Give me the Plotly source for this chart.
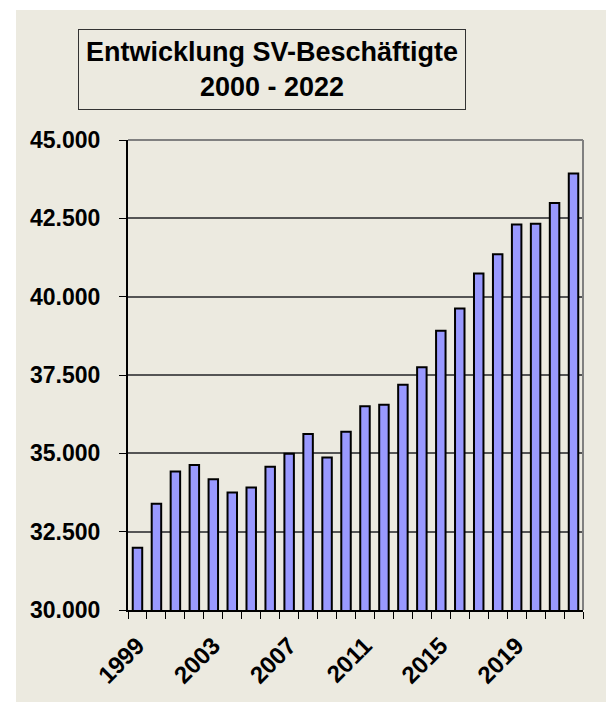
import plotly.graph_objects as go

years = list(range(1999, 2023))
employees = [31990, 33390, 34420, 34630, 34170, 33750, 33910, 34570, 34990, 35620,
             34870, 35690, 36500, 36550, 37190, 37750, 38910, 39620, 40740, 41350,
             42300, 42330, 42990, 43930]
label_years = [1999, 2003, 2007, 2011, 2015, 2019]
y_ticks = [30000, 32500, 35000, 37500, 40000, 42500, 45000]
y_tick_text = ["30.000", "32.500", "35.000", "37.500", "40.000", "42.500", "45.000"]
title_text = "Entwicklung SV-Beschäftigte<br>2000 - 2022"

W, H = 606, 702
L, R, T, B = 128, 23, 140, 92
pw, ph = W - L - R, H - T - B

def px_x(x):
    return (x - L) / pw

def px_y(y):
    return (H - B - y) / ph

FONT = "Liberation Sans, Arial, sans-serif"
BEIGE = "#ECEAE0"

fig = go.Figure()
fig.add_trace(go.Bar(
    x=years, y=employees, width=0.5,
    marker=dict(color="#9999FF", line=dict(color="black", width=2)),
    hoverinfo="x+y",
))

fig.update_layout(
    width=W, height=H,
    margin=dict(l=L, r=R, t=T, b=B, autoexpand=False),
    paper_bgcolor="white",
    plot_bgcolor="#C0C0C0",
    showlegend=False,
    font=dict(family=FONT, color="black"),
    bargap=0.5,
    xaxis=dict(
        range=[1998.5, 2022.5],
        tickmode="array", tickvals=label_years,
        ticktext=[str(v) for v in label_years],
        tickangle=-45,
        ticks="",
        ticklabelstandoff=10,
        tickfont=dict(family=FONT, size=24, color="black", weight="bold"),
        showgrid=False, zeroline=False,
        showline=True, linecolor="black", linewidth=2,
        minor=dict(tickmode="linear", tick0=1998.5, dtick=1, ticks="outside",
                   ticklen=7, tickcolor="black", tickwidth=1, showgrid=False),
        fixedrange=True,
    ),
    yaxis=dict(
        range=[30000, 45000],
        tickmode="array", tickvals=y_ticks, ticktext=y_tick_text,
        ticks="outside", ticklen=7, tickcolor="black", tickwidth=1,
        ticklabelstandoff=14,
        tickfont=dict(family=FONT, size=23, color="black", weight="bold"),
        showgrid=True, gridcolor="#555555", gridwidth=2,
        zeroline=False,
        showline=True, linecolor="black", linewidth=2,
        fixedrange=True,
    ),
    shapes=[
        dict(type="rect", xref="paper", yref="paper",
             x0=px_x(16), x1=px_x(W + 5), y0=px_y(H + 5), y1=px_y(10),
             fillcolor=BEIGE, line=dict(width=0), layer="below"),
        dict(type="line", xref="paper", yref="paper", x0=0, x1=1, y0=1, y1=1,
             line=dict(color="#808080", width=2), layer="above"),
        dict(type="line", xref="paper", yref="paper", x0=1, x1=1, y0=0, y1=1,
             line=dict(color="#808080", width=2), layer="above"),
    ],
    annotations=[
        dict(text=title_text, xref="paper", yref="paper",
             x=px_x(271.5), y=px_y(70), xanchor="center", yanchor="middle",
             showarrow=False, align="center",
             font=dict(family=FONT, size=27, color="black", weight="bold"),
             bordercolor="#333333", borderwidth=1, borderpad=7, bgcolor=BEIGE),
    ],
)

fig.write_html("out.html")
